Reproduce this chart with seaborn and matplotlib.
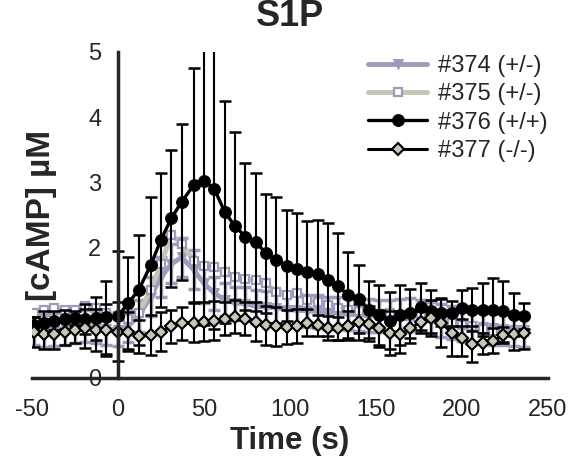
import numpy as np
import pandas as pd
import matplotlib
matplotlib.use('Agg')
import matplotlib.pyplot as plt
import seaborn as sns

sns.set_style("white")
plt.rcParams['font.family'] = ['Liberation Sans', 'DejaVu Sans']
plt.rcParams['axes.unicode_minus'] = False

# time points (s)
time_s = [-49, -43, -37, -31, -25, -19, -13, -7, 0, 6, 12, 19, 25, 31, 37, 44,
          50, 56, 62, 68, 74, 80, 86, 92, 98, 104, 110, 116, 122, 128, 134, 140,
          146, 152, 158, 164, 170, 176, 182, 188, 194, 200, 206, 212, 218, 224, 230, 236]

# [cAMP] per mouse
camp_374 = [0.75, 0.72, 0.74, 0.76, 0.78, 0.8, 0.78, 0.75, 0.74, 0.8, 0.95, 1.25, 1.55, 1.75, 1.85, 1.66,
            1.45, 1.3, 1.2, 1.15, 1.14, 1.1, 1.09, 1.08, 1.05, 1.04, 1.03, 1.02, 1.0, 1.0, 0.98, 0.97,
            0.96, 0.95, 0.95, 0.96, 0.97, 0.95, 0.92, 0.88, 0.85, 0.82, 0.8, 0.78, 0.76, 0.75, 0.74, 0.73]
err_374 = [0.25, 0.25, 0.25, 0.25, 0.25, 0.25, 0.25, 0.25, 0.25, 0.25, 0.25, 0.3, 0.3, 0.3, 0.3, 0.3,
           0.3, 0.25, 0.25, 0.25, 0.25, 0.25, 0.25, 0.25, 0.25, 0.25, 0.25, 0.25, 0.25, 0.25, 0.25, 0.25,
           0.25, 0.25, 0.25, 0.25, 0.25, 0.25, 0.25, 0.25, 0.25, 0.25, 0.25, 0.25, 0.25, 0.25, 0.25, 0.25]

camp_375 = [1.0, 1.05, 1.08, 1.05, 1.05, 1.1, 1.08, 1.0, 0.95, 0.9, 1.0, 1.35, 1.75, 2.2, 2.05, 1.8,
            1.72, 1.7, 1.62, 1.55, 1.52, 1.5, 1.45, 1.32, 1.27, 1.3, 1.2, 1.17, 1.12, 1.08, 1.05, 1.03,
            1.0, 0.98, 1.0, 0.97, 0.95, 0.97, 0.98, 0.9, 0.85, 0.82, 0.8, 0.75, 0.72, 0.72, 0.7, 0.7]

camp_376 = [0.82, 0.85, 0.88, 0.9, 0.92, 0.9, 0.92, 0.93, 0.95, 1.15, 1.35, 1.73, 2.12, 2.45, 2.7, 2.96,
            3.02, 2.9, 2.55, 2.33, 2.17, 2.09, 1.91, 1.81, 1.72, 1.67, 1.63, 1.6, 1.51, 1.41, 1.27, 1.21,
            1.05, 0.97, 0.88, 0.97, 0.99, 1.09, 1.02, 1.0, 0.99, 1.07, 1.05, 1.05, 1.04, 1.02, 0.97, 0.95]
err_376 = [0.12, 0.18, 0.14, 0.15, 0.11, 0.23, 0.33, 0.56, 1.0, 0.7, 0.85, 1.04, 1.03, 1.05, 1.2, 1.8,
           2.2, 2.15, 1.7, 1.44, 1.13, 1.06, 0.91, 0.96, 0.85, 0.86, 0.78, 0.82, 0.87, 0.82, 0.66, 0.52,
           0.44, 0.46, 0.44, 0.46, 0.37, 0.36, 0.33, 0.21, 0.19, 0.28, 0.33, 0.41, 0.5, 0.47, 0.33, 0.2]

camp_377 = [0.7, 0.68, 0.67, 0.7, 0.74, 0.76, 0.74, 0.73, 0.71, 0.71, 0.64, 0.66, 0.71, 0.79, 0.84, 0.85,
            0.86, 0.88, 0.91, 0.94, 0.91, 0.86, 0.81, 0.79, 0.78, 0.8, 0.85, 0.81, 0.77, 0.76, 0.8, 0.86,
            0.83, 0.76, 0.69, 0.67, 0.76, 0.86, 0.92, 0.85, 0.69, 0.62, 0.52, 0.53, 0.57, 0.66, 0.68, 0.69]
err_377 = [0.23, 0.23, 0.23, 0.2, 0.2, 0.3, 0.32, 0.4, 0.45, 0.3, 0.25, 0.3, 0.3, 0.25, 0.25, 0.3,
           0.3, 0.3, 0.25, 0.25, 0.25, 0.3, 0.3, 0.3, 0.26, 0.26, 0.21, 0.16, 0.18, 0.17, 0.22, 0.28,
           0.27, 0.28, 0.34, 0.29, 0.23, 0.17, 0.28, 0.37, 0.35, 0.28, 0.28, 0.16, 0.19, 0.12, 0.25, 0.25]

labels = ['#374 (+/-)', '#375 (+/-)', '#376 (+/+)', '#377 (-/-)']
x_ticks = [-50, 0, 50, 100, 150, 200, 250]
y_ticks = [0, 1, 2, 3, 4, 5]

purple = '#9c9cbd'
beige = '#c6c6b4'

df = pd.DataFrame({'t': time_s, 'm374': camp_374, 'm375': camp_375,
                   'm376': camp_376, 'm377': camp_377})

fig = plt.figure(figsize=(5.73, 4.66), dpi=100)
ax = fig.add_axes([32 / 573, 88 / 466, 516 / 573, 326 / 466])

# error bars first
ax.errorbar(time_s, camp_374, yerr=err_374, fmt='none', ecolor=purple, elinewidth=2.5,
            capsize=4, capthick=2.5, zorder=1)
ax.errorbar(time_s, camp_376, yerr=err_376, fmt='none', ecolor='black', elinewidth=1.5,
            capsize=4, capthick=1.8, zorder=3)
ax.errorbar(time_s, camp_377, yerr=err_377, fmt='none', ecolor='black', elinewidth=1.5,
            capsize=4, capthick=1.8, zorder=3)

sns.lineplot(data=df, x='t', y='m374', ax=ax, color=purple, lw=3.5, marker='v', ms=7,
             mec=purple, mfc=purple, label=labels[0], zorder=2)
sns.lineplot(data=df, x='t', y='m375', ax=ax, color=beige, lw=3.5, marker='s', ms=6,
             mec=purple, mfc='white', mew=1.6, label=labels[1], zorder=2)
sns.lineplot(data=df, x='t', y='m376', ax=ax, color='black', lw=2.4, marker='o', ms=8.5,
             mec='black', mfc='black', label=labels[2], zorder=4)
sns.lineplot(data=df, x='t', y='m377', ax=ax, color='black', lw=2.2, marker='D', ms=6.5,
             mec='black', mfc='#c8c8ba', mew=1.5, label=labels[3], zorder=5)

ax.set_xlim(-50, 250)
ax.set_ylim(0, 5)
ax.set_xticks(x_ticks)
ax.set_yticks(y_ticks)

for s in ['top', 'right']:
    ax.spines[s].set_visible(False)
ax.spines['left'].set_position(('data', 0))
ax.spines['left'].set_bounds(0, 5)
ax.spines['left'].set_linewidth(2.5)
ax.spines['bottom'].set_linewidth(2.5)
ax.spines['left'].set_zorder(6)

ax.tick_params(axis='both', which='both', direction='out', width=2, length=6,
               labelsize=17, color='black')
ax.tick_params(axis='y', length=7, pad=5)
ax.tick_params(axis='x', pad=9)

ax.set_xlabel('Time (s)', fontsize=22.5, fontweight='bold', labelpad=4)
ax.set_ylabel('[cAMP] µM', fontsize=24, fontweight='bold')
ax.yaxis.set_label_coords(0.048, 0.5)

fig.text(290 / 573, 1 - 17 / 466, 'S1P', ha='center', va='center',
         fontsize=26, fontweight='bold')

leg = ax.legend(loc='upper left', bbox_to_anchor=(368 / 573, 1 - 55 / 466),
                bbox_transform=fig.transFigure, frameon=False, fontsize=17,
                handlelength=2.5, handletextpad=0.45, labelspacing=0.27,
                borderpad=0, borderaxespad=0)

fig.savefig('out.png', dpi=100)
